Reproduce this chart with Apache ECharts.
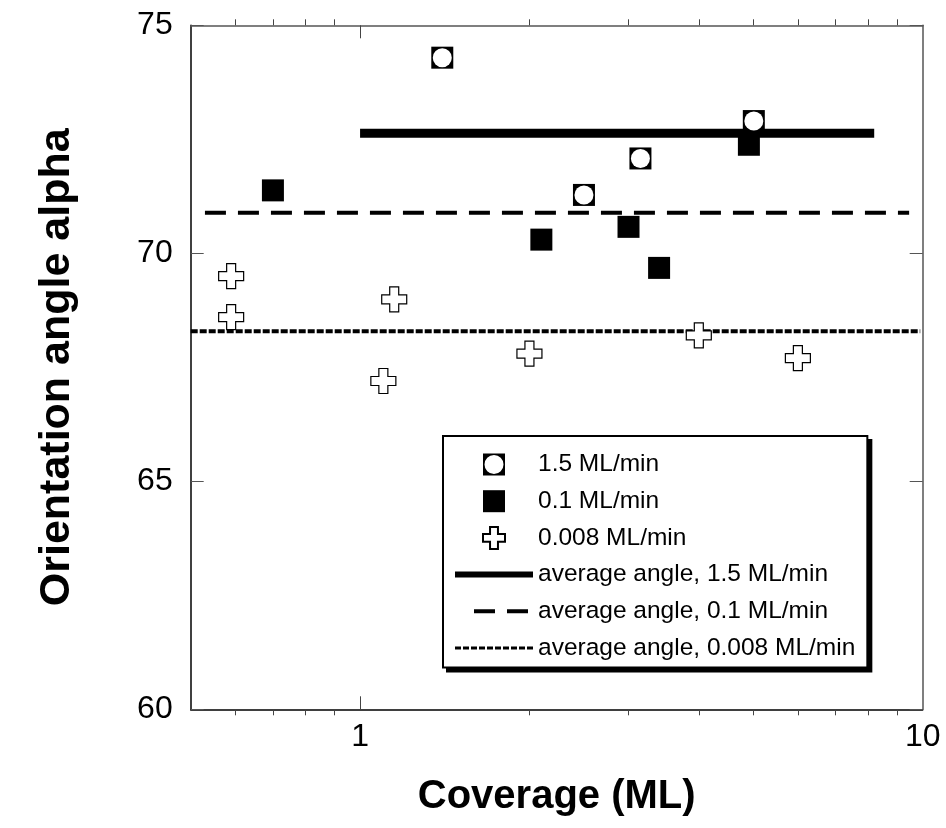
<!DOCTYPE html>
<html><head><meta charset="utf-8">
<script src="https://cdn.jsdelivr.net/npm/echarts@6/dist/echarts.min.js"></script>
<style>html,body{margin:0;padding:0;background:#fff}#c{width:946px;height:828px}</style>
</head><body><div id="c"></div>
<script>
// ---- data ----
const circleX = [1.40, 2.50, 3.15, 5.01];
const circleY = [74.29, 71.28, 72.08, 72.90];
const squareX = [0.70, 2.10, 3.00, 3.40, 4.91];
const squareY = [71.38, 70.30, 70.58, 69.68, 72.38];
const plusX = [0.59, 0.59, 1.15, 1.10, 2.00, 4.00, 6.00];
const plusY = [69.50, 68.60, 68.99, 67.20, 67.80, 68.20, 67.70];
const avgFastX = [1.0, 8.2];   const avgFastY = 72.63;
const avgMidX  = [0.53, 9.46]; const avgMidY  = 70.89;
const avgSlowX = [0.5, 9.9];   const avgSlowY = 68.29;
const xMajorTicks = [1, 10];
const xMinorTicks = [0.6, 0.7, 0.8, 0.9, 2, 3, 4, 5, 6, 7, 8, 9];
const yTicks = [60, 65, 70, 75];
const seriesNames = ['1.5 ML/min', '0.1 ML/min', '0.008 ML/min',
  'average angle, 1.5 ML/min', 'average angle, 0.1 ML/min', 'average angle, 0.008 ML/min'];
const xTitle = 'Coverage (ML)';
const yTitle = 'Orientation angle alpha';

// ---- build ----
const zip = (xs, ys) => xs.map((x, i) => [x, ys[i]]);
const hline = (xs, y) => xs.map(x => [x, y]);
const FONT = 'Liberation Sans, Arial, sans-serif';
const circleIcon = 'path://M0,0H22V22H0Z M11,1.5A9.5,9.5 0 0 0 11,20.5A9.5,9.5 0 0 0 11,1.5Z';
const squareIcon = 'path://M0,0H22V22H0Z';
const plusIcon = 'path://M8,0H17V8H25V17H17V25H8V17H0V8H8Z';

const xBase = { type: 'log', logBase: 10, min: 0.5, max: 10, gridIndex: 0, splitLine: { show: false } };
const yBase = { type: 'value', min: yTicks[0], max: yTicks[yTicks.length - 1], interval: 5, splitLine: { show: false } };

const lineLegendStyles = [
  { width: 6, type: 'solid' },
  { width: 4, type: [0, 19, 21, 12, 21, 60] },
  { width: 3, type: [6, 2] }
];
function legendData(hidden) {
  const items = [
    { name: seriesNames[0], icon: circleIcon },
    { name: seriesNames[1], icon: squareIcon },
    { name: seriesNames[2], icon: plusIcon },
    { name: seriesNames[3], itemStyle: { opacity: 0 }, lineStyle: Object.assign({}, lineLegendStyles[0]) },
    { name: seriesNames[4], itemStyle: { opacity: 0 }, lineStyle: Object.assign({}, lineLegendStyles[1]) },
    { name: seriesNames[5], itemStyle: { opacity: 0 }, lineStyle: Object.assign({}, lineLegendStyles[2]) }
  ];
  if (hidden) items.forEach(it => { it.itemStyle = { opacity: 0 }; it.lineStyle = Object.assign(it.lineStyle || {}, { opacity: 0 }); });
  return items;
}
const legendBase = {
  orient: 'vertical',
  itemWidth: 78, itemHeight: 22, itemGap: 11.7,
  padding: [16, 12, 7, 9],
  borderWidth: 2,
  selectedMode: false
};

const chart = echarts.init(document.getElementById('c'), null, { renderer: 'canvas' });
chart.setOption({
  backgroundColor: '#fff',
  animation: false,
  grid: { left: 190.7, right: 23.3, top: 25.3, bottom: 118.7 },
  xAxis: [
    Object.assign({}, xBase, {
      position: 'bottom',
      axisLine: { lineStyle: { color: '#000', width: 1.5 } },
      axisTick: { customValues: xMinorTicks, inside: false, length: 6, lineStyle: { color: '#444' } },
      axisLabel: { customValues: xMajorTicks, fontSize: 32, color: '#000', fontFamily: FONT, margin: 12 },
      name: xTitle, nameLocation: 'middle', nameGap: 68,
      nameTextStyle: { fontSize: 40, fontWeight: 'bold', color: '#000', fontFamily: FONT }
    }),
    Object.assign({}, xBase, {
      position: 'bottom',
      axisLine: { show: false },
      axisTick: { customValues: [xMajorTicks[0]], inside: true, length: 13, lineStyle: { color: '#444' } },
      axisLabel: { show: false }
    }),
    Object.assign({}, xBase, {
      position: 'top',
      axisLine: { lineStyle: { color: '#555', width: 1.5 } },
      axisTick: { customValues: xMinorTicks, inside: false, length: 6, lineStyle: { color: '#444' } },
      axisLabel: { show: false }
    }),
    Object.assign({}, xBase, {
      position: 'top',
      axisLine: { show: false },
      axisTick: { customValues: [xMajorTicks[0]], inside: true, length: 13, lineStyle: { color: '#444' } },
      axisLabel: { show: false }
    })
  ],
  yAxis: [
    Object.assign({}, yBase, {
      position: 'left',
      axisLine: { show: true, lineStyle: { color: '#000', width: 1.5 } },
      axisTick: { show: true, inside: true, length: 13, lineStyle: { color: '#555' } },
      axisLabel: { fontSize: 32, color: '#000', fontFamily: FONT, margin: 18 },
      name: yTitle, nameLocation: 'middle', nameGap: 112,
      nameTextStyle: { fontSize: 43, fontWeight: 'bold', color: '#000', fontFamily: FONT }
    }),
    Object.assign({}, yBase, {
      position: 'right',
      axisLine: { show: true, lineStyle: { color: '#555', width: 1.5 } },
      axisTick: { show: true, inside: true, length: 13, lineStyle: { color: '#555' } },
      axisLabel: { show: false }
    })
  ],
  legend: [
    Object.assign({}, legendBase, {
      left: 443, top: 436, z: 5,
      data: legendData(false),
      textStyle: { fontSize: 24.5, color: '#000', fontFamily: FONT },
      backgroundColor: '#fff', borderColor: '#000'
    }),
    Object.assign({}, legendBase, {
      left: 447, top: 440, z: 4,
      data: legendData(true),
      textStyle: { fontSize: 24.5, color: 'rgba(0,0,0,0)', fontFamily: FONT },
      backgroundColor: '#000', borderColor: '#000'
    })
  ],
  series: [
    { name: seriesNames[3], type: 'line', z: 2, data: hline(avgFastX, avgFastY), showSymbol: false,
      lineStyle: { color: '#000', width: 9, cap: 'butt' }, itemStyle: { color: '#000' } },
    { name: seriesNames[4], type: 'line', z: 2, data: hline(avgMidX, avgMidY), showSymbol: false,
      lineStyle: { color: '#000', width: 4, type: [21, 12], cap: 'butt' }, itemStyle: { color: '#000' } },
    { name: seriesNames[5], type: 'line', z: 2, data: hline(avgSlowX, avgSlowY), showSymbol: false, clip: false,
      lineStyle: { color: '#000', width: 4, type: [7, 2], cap: 'butt' }, itemStyle: { color: '#000' } },
    { name: seriesNames[0], type: 'scatter', z: 3, data: zip(circleX, circleY), symbol: 'rect', symbolSize: 22,
      itemStyle: { color: '#000', opacity: 1 } },
    { name: '_circleFace', type: 'scatter', z: 4, data: zip(circleX, circleY), symbol: 'circle', symbolSize: 19,
      itemStyle: { color: '#fff', opacity: 1 }, silent: true },
    { name: seriesNames[1], type: 'scatter', z: 3, data: zip(squareX, squareY), symbol: 'rect', symbolSize: 22,
      itemStyle: { color: '#000', opacity: 1 } },
    { name: seriesNames[2], type: 'scatter', z: 3, data: zip(plusX, plusY), symbol: plusIcon, symbolSize: 25,
      itemStyle: { color: '#fff', borderColor: '#000', borderWidth: 1.2, opacity: 1 } }
  ]
});
</script>
</body></html>
